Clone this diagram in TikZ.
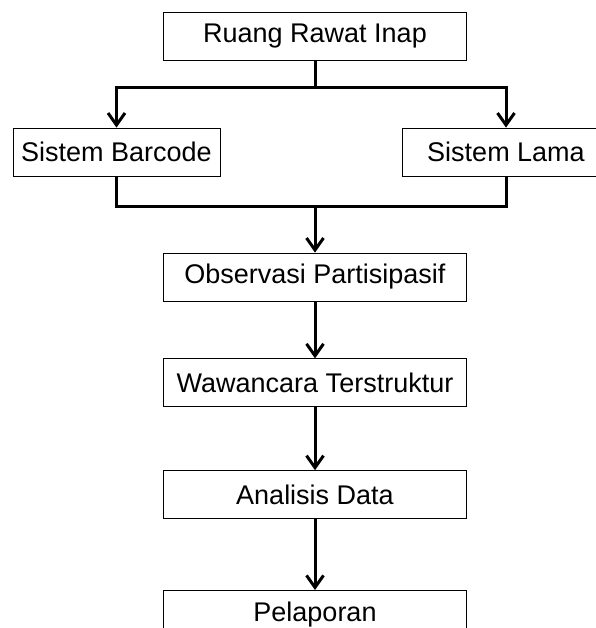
\documentclass[tikz,border=0pt]{standalone}
\usepackage{fontspec}
\setmainfont{Liberation Sans}
\usetikzlibrary{positioning, arrows.meta}
\tikzset{
  every picture/.style={line width=0.8pt},
  box/.style={draw, rectangle, fill=white, minimum width=303pt, minimum height=48pt, inner sep=0pt, font=\fontsize{27}{31}\selectfont},
  sbox/.style={box, minimum width=207pt},
  link/.style={line width=3pt},
  flow/.style={link, -{Straight Barb[length=12pt, width=17pt, line width=3pt]}}
}

\begin{document}
\begin{tikzpicture}[x=1pt, y=-1pt]
    \useasboundingbox (0,0) rectangle (595,628);

    \node [box] (ruang) at (315,36) {Ruang Rawat Inap};

    \node [sbox] (barcode) at (116.5,152) {Sistem Barcode};
    \node [sbox] (lama) at (506,152) {Sistem Lama};

    \node [box] (obs) at (315,277) {Observasi Partisipasif};
    \node [box, below=57pt of obs] (wawancara) {Wawancara Terstruktur};
    \node [box, below=63pt of wawancara] (analisis) {Analisis Data};
    \node [box, below=71pt of analisis] (pelaporan) {Pelaporan};

    \coordinate (split) at (315,88);
    \coordinate (join) at (315,207);

    \draw [link] (ruang) -- (split);
    \draw [flow] (split) -| (barcode);
    \draw [flow] (split) -| (lama);

    \draw [link] (barcode) |- (join);
    \draw [link] (lama) |- (join);

    \draw(join) edge[flow] (obs);
    \draw(obs) edge[flow] (wawancara);
    \draw(wawancara) edge[flow] (analisis);
    \draw(analisis) edge[flow] (pelaporan);
\end{tikzpicture}
\end{document}
